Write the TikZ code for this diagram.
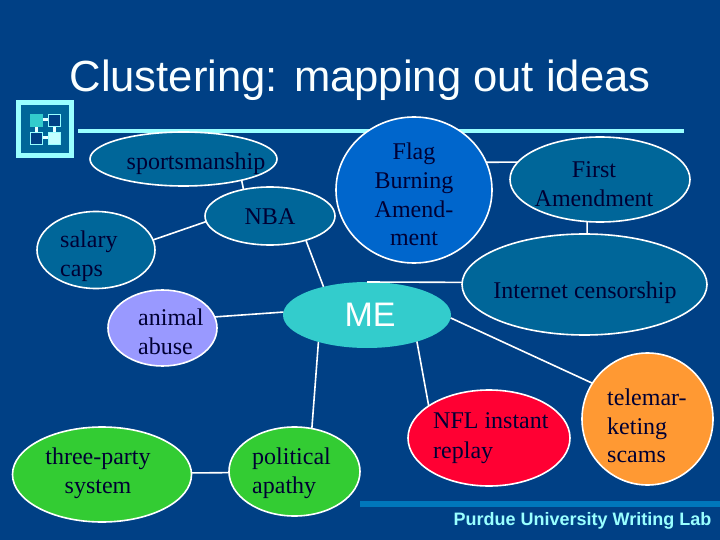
\documentclass[tikz,border=0pt]{standalone}
\usepackage{fontspec}
\setmainfont{Liberation Serif}
\newfontfamily\arialfont{Liberation Sans}
\usetikzlibrary{shapes.geometric}
\definecolor{slidebg}{HTML}{004085}
\definecolor{tealbub}{HTML}{006699}
\definecolor{flagblue}{HTML}{0066CC}
\definecolor{mecyan}{HTML}{33CCCC}
\definecolor{lilac}{HTML}{9999FF}
\definecolor{leaf}{HTML}{33CC33}
\definecolor{redbub}{HTML}{FF0033}
\definecolor{orangebub}{HTML}{FF9933}
\definecolor{palecyan}{HTML}{99FFFF}
\definecolor{barblue}{HTML}{0077BB}
\definecolor{inktext}{HTML}{000033}

\begin{document}
\begin{tikzpicture}[
  x=1pt,y=-1pt,
  bubble/.style={draw=white,line width=1.6pt,ellipse,inner sep=0pt,outer sep=0pt,fill=tealbub},
  txt/.style={font=\fontsize{24}{28.7}\selectfont,text=inktext,inner sep=0pt},
  link/.style={draw=white,line width=1.6pt},
  tile/.style={draw=palecyan,line width=.8pt}]
  \path[use as bounding box,fill=slidebg] (0,0) rectangle (720,540);

  % Title and the rules of the slide.
  \node[font=\arialfont\fontsize{43.6}{50}\selectfont,text=white!95!palecyan,inner sep=0pt] (title) at (360,80)
    {Clustering: mapping out ideas};
  \fill[palecyan] (78,129) rectangle (684,133.5);
  \fill[barblue] (360,501) rectangle (720,507);
  \node[font=\arialfont\bfseries\fontsize{18}{20}\selectfont,text=palecyan,anchor=east,inner sep=0pt] (footer)
    at (711.5,521) {Purdue University Writing Lab};

  % Logo.
  \draw[palecyan,line width=5pt,fill=tealbub] (18.5,102.5) rectangle (71.5,156);
  \draw[white!80!palecyan,line width=3pt] (36,120) -- (54,120) -- (54,138) -- (36,138) -- cycle;
  \draw[tile,draw=none,fill=mecyan] (30,114) rectangle (43,127);
  \draw[tile,fill=slidebg] (48,114.5) rectangle (60.5,126.5);
  \draw[tile,fill=slidebg] (30.5,132.5) rectangle (42.5,144.5);
  \draw[tile,fill=white!40!palecyan] (48,132) rectangle (60.5,144.5);

  % Bubbles.
  \node[bubble,minimum width=187pt,minimum height=54pt] (sports) at (183.5,159) {};
  \node[bubble,minimum width=130pt,minimum height=58pt] (nba) at (270,216) {};
  \node[bubble,minimum width=118pt,minimum height=77pt] (salary) at (96,250) {};
  \node[bubble,minimum width=156pt,minimum height=146pt,fill=flagblue] (flag) at (414,190) {};
  \node[bubble,minimum width=180pt,minimum height=85pt] (first) at (600,179.5) {};
  \node[bubble,minimum width=245pt,minimum height=101pt] (internet) at (584.5,284.5) {};
  \node[ellipse,inner sep=0pt,outer sep=0pt,fill=mecyan,minimum width=168pt,minimum height=66pt] (me) at (367,315) {};
  \node[bubble,minimum width=109pt,minimum height=76pt,fill=lilac] (animal) at (162.5,328) {};
  \node[bubble,minimum width=179pt,minimum height=95pt,fill=leaf] (party) at (102,474.5) {};
  \node[bubble,minimum width=131pt,minimum height=89pt,fill=leaf] (apathy) at (294.5,471.5) {};
  \node[bubble,minimum width=162pt,minimum height=96pt,fill=redbub] (nfl) at (489,438) {};
  \node[bubble,minimum width=131pt,minimum height=132pt,fill=orangebub] (tele) at (647.5,419) {};

  % Connectors.
  \draw[link] (sports.-20) -- (nba.135);
  \draw[link] (nba.185) -- (salary.10);
  \draw[link] (nba.-34) -- (me.147);
  \draw[link] (flag.21) -- (first.168);
  \draw[link] (first.-107) -- (internet.87);
  \draw[link] (me.90) -- (internet.179);
  \draw[link] (me.-2) -- (tele.147);
  \draw[link] (me.-28) -- (nfl.152);
  \draw[link] (me.209) -- (apathy.68);
  \draw[link] (me.178) -- (animal.12);
  \draw[link] (party.1) -- (apathy.181);

  % Labels.
  \node[txt] (sportstxt) at (196,164) {sportsmanship};
  \node[txt] (nbatxt) at (270,217) {NBA};
  \node[txt,align=left,anchor=west] (salarytxt) at (60,256) {salary\\caps};
  \node[txt,align=center] (flagtxt) at (414,194.5) {Flag\\Burning\\Amend-\\ment};
  \node[txt,align=center] (firsttxt) at (594,184) {First\\Amendment};
  \node[txt] (internettxt) at (585,293) {Internet censorship};
  \node[font=\arialfont\fontsize{34}{38}\selectfont,text=white,inner sep=0pt] (metxt) at (370,315) {ME};
  \node[txt,align=left,anchor=west] (animaltxt) at (138,332) {animal\\abuse};
  \node[txt,align=center] (partytxt) at (98,473) {three-party\\system};
  \node[txt,align=left,anchor=west] (apathytxt) at (252,473) {political\\apathy};
  \node[txt,align=left,anchor=west] (nfltxt) at (433,438) {NFL instant\\[1.5pt]replay};
  \node[txt,align=left,anchor=west] (teletxt) at (607,426) {telemar-\\keting\\scams};
\end{tikzpicture}
\end{document}
